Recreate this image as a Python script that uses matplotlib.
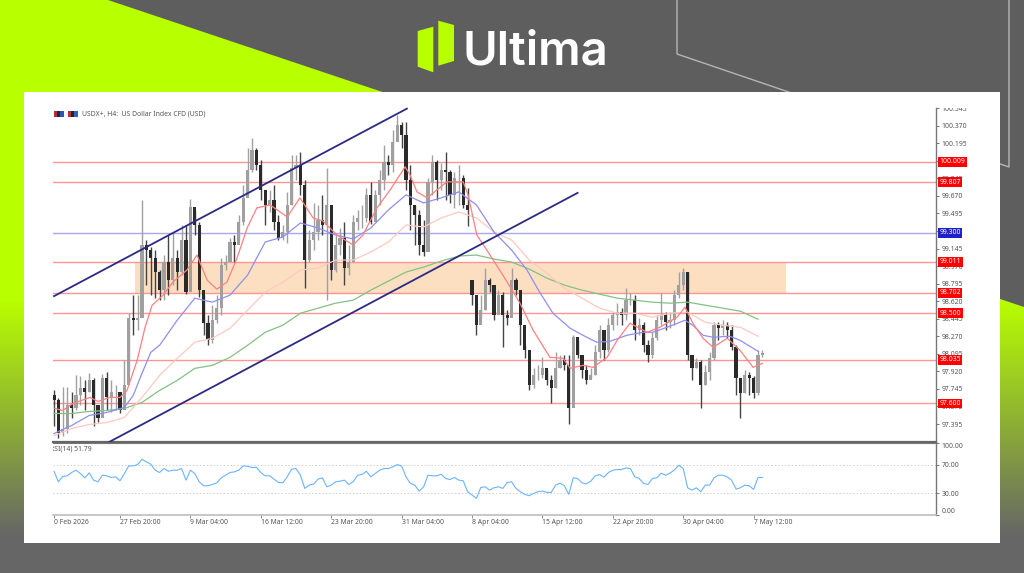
import numpy as np
import matplotlib
matplotlib.use("Agg")
import matplotlib.pyplot as plt
from matplotlib.patches import Polygon, Rectangle
from matplotlib.transforms import Bbox

plt.rcParams["font.family"] = ["Noto Sans", "DejaVu Sans"]

W, H = 1024, 573

closes = [97.63, 97.31, 97.35, 97.58, 97.55, 97.68, 97.75, 97.71, 97.83, 97.58,
          97.45, 97.85, 97.66, 97.71, 97.71, 97.53, 97.78, 98.45, 98.43, 98.45,
          99.18, 99.13, 99.05, 98.91, 98.73, 99.01, 98.83, 99.05, 98.91, 99.23,
          98.71, 99.56, 99.38, 98.73, 98.40, 98.23, 98.43, 98.55, 98.98, 99.01,
          99.21, 99.18, 99.41, 99.65, 99.93, 100.13, 99.98, 99.73, 99.58, 99.63,
          99.41, 99.25, 99.31, 99.58, 99.95, 99.98, 99.78, 99.03, 99.23, 99.31,
          99.43, 99.38, 99.58, 98.93, 99.18, 99.25, 98.95, 99.01, 99.41, 99.45,
          99.45, 99.68, 99.41, 99.68, 99.83, 100.01, 99.98, 100.21, 100.38, 100.28,
          99.83, 99.58, 99.48, 99.18, 99.11, 99.81, 100.01, 99.83, 99.93, 99.91,
          99.68, 99.85, 99.85, 99.58, 99.53, 98.68, 98.38, 98.53, 98.83, 98.78,
          98.48, 98.68, 98.48, 98.45, 98.83, 98.73, 98.38, 98.13, 97.78, 97.88,
          97.88, 97.95, 97.83, 97.75, 97.95, 98.03, 97.98, 97.55, 98.26, 98.08,
          97.93, 97.83, 97.88, 98.11, 98.33, 98.13, 98.38, 98.48, 98.51, 98.48,
          98.63, 98.63, 98.33, 98.38, 98.18, 98.08, 98.25, 98.43, 98.48, 98.41,
          98.43, 98.68, 98.78, 98.91, 98.08, 97.95, 98.01, 97.78, 97.91, 98.05,
          98.38, 98.35, 98.38, 98.33, 98.16, 97.85, 97.70, 97.88, 97.85, 97.70,
          98.08, 98.10]
highs = [97.73, 97.65, 97.76, 97.76, 97.71, 97.88, 97.87, 97.83, 97.90, 97.85,
         97.58, 97.89, 97.91, 97.83, 97.78, 97.70, 98.03, 98.50, 98.68, 98.68,
         99.63, 99.23, 99.16, 99.13, 98.93, 99.08, 99.28, 99.31, 99.13, 99.38,
         99.38, 99.64, 99.53, 99.41, 98.68, 98.48, 98.58, 98.68, 99.05, 99.08,
         99.25, 99.28, 99.48, 99.78, 100.15, 100.25, 100.15, 100.03, 99.73, 99.73,
         99.78, 99.48, 99.38, 99.71, 100.08, 100.08, 100.11, 99.83, 99.33, 99.60,
         99.58, 99.68, 99.95, 99.58, 99.28, 99.35, 99.41, 99.18, 99.48, 99.53,
         99.58, 99.75, 99.81, 99.73, 99.93, 100.18, 100.08, 100.33, 100.48, 100.41,
         100.41, 99.98, 99.58, 99.53, 99.43, 99.85, 100.08, 100.03, 100.00, 100.11,
         99.93, 99.91, 99.98, 99.88, 99.75, 98.83, 98.68, 98.68, 98.95, 98.85,
         98.78, 98.73, 98.71, 98.53, 98.95, 98.85, 98.68, 98.18, 98.08, 97.95,
         97.98, 98.06, 97.93, 97.88, 98.11, 98.08, 98.08, 98.08, 98.28, 98.23,
         98.08, 97.98, 97.95, 98.18, 98.38, 98.23, 98.45, 98.51, 98.60, 98.55,
         98.75, 98.70, 98.68, 98.45, 98.41, 98.23, 98.31, 98.48, 98.70, 98.51,
         98.51, 98.73, 98.91, 98.95, 98.91, 98.08, 98.05, 98.03, 97.98, 98.11,
         98.41, 98.41, 98.43, 98.41, 98.38, 98.18, 97.83, 97.93, 97.91, 97.87,
         98.13, 98.13]
lows = [97.38, 97.26, 97.28, 97.31, 97.45, 97.53, 97.58, 97.53, 97.71, 97.38,
        97.41, 97.48, 97.53, 97.51, 97.53, 97.50, 97.63, 97.93, 98.28, 98.33,
        98.63, 98.78, 98.68, 98.65, 98.63, 98.63, 98.68, 98.78, 98.73, 98.88,
        98.69, 99.18, 99.28, 98.66, 98.28, 98.18, 98.20, 98.40, 98.48, 98.93,
        99.08, 99.01, 99.23, 99.38, 99.68, 99.91, 99.93, 99.63, 99.38, 99.51,
        99.33, 99.23, 99.23, 99.20, 99.58, 99.83, 99.68, 98.75, 99.01, 99.13,
        99.23, 99.28, 98.63, 98.83, 98.91, 99.08, 98.78, 98.88, 99.01, 99.33,
        99.35, 99.41, 99.39, 99.48, 99.58, 99.73, 99.88, 99.91, 100.28, 100.15,
        99.73, 99.33, 99.18, 99.08, 99.07, 99.23, 99.68, 99.63, 99.73, 99.63,
        99.60, 99.55, 99.58, 99.55, 99.37, 98.58, 98.28, 98.45, 98.53, 98.71,
        98.43, 98.60, 98.16, 98.38, 98.81, 98.68, 98.18, 98.05, 97.73, 97.75,
        97.83, 97.85, 97.78, 97.60, 97.75, 97.95, 97.93, 97.40, 97.65, 98.05,
        97.85, 97.79, 97.85, 97.88, 98.05, 98.03, 98.11, 98.33, 98.38, 98.38,
        98.43, 98.58, 98.23, 98.28, 98.11, 98.01, 98.05, 98.23, 98.38, 98.33,
        98.35, 98.38, 98.65, 98.73, 98.03, 97.83, 97.95, 97.55, 97.78, 97.83,
        98.03, 98.23, 98.28, 98.25, 98.13, 97.68, 97.45, 97.70, 97.68, 97.65,
        97.68, 98.06]
# the weekend gap, every other bar opens on the previous close
gap_opens = {95: 98.83}

ma_fast_bars = [0.2, 2, 4.3, 8.2, 10, 12.7, 15, 16.6, 18.9, 20.7,
                22.3, 24.8, 27, 30.2, 32.5, 34.8, 37, 39.3, 41.6, 43.9,
                46.1, 49.1, 53, 55.9, 58.9, 61.1, 64.3, 68, 70.2, 73.4,
                76.4, 79.8, 80.9, 82.5, 84.8, 89.3, 93, 94.1, 96.1, 99.1,
                102, 103, 105.9, 108.9, 112.7, 115.7, 117.3, 120.2, 122.5, 125.7,
                128, 130.9, 134.8, 137.7, 141.6, 143.4, 145.2, 147.5, 149.8, 153,
                155.9, 158.9, 161]
ma_fast = [97.55, 97.53, 97.60, 97.66, 97.62, 97.66, 97.66, 97.73, 98.03, 98.36,
           98.58, 98.68, 98.81, 98.93, 99.08, 98.83, 98.74, 98.81, 99.05, 99.35,
           99.55, 99.58, 99.46, 99.65, 99.45, 99.42, 99.28, 99.18, 99.28, 99.55,
           99.73, 99.96, 99.88, 99.71, 99.65, 99.81, 99.81, 99.68, 99.28, 99.08,
           98.88, 98.81, 98.60, 98.33, 98.06, 98.05, 97.95, 97.98, 97.96, 98.06,
           98.23, 98.40, 98.31, 98.36, 98.46, 98.56, 98.40, 98.25, 98.16, 98.25,
           98.13, 97.96, 98.00]

ma_mid_bars = [0, 4, 8, 12, 16, 18, 20, 22, 24, 28,
               32, 36, 40, 44, 48, 52, 56, 60, 64, 68,
               72, 76, 80, 84, 88, 92, 96, 100, 104, 107.5,
               110.5, 113.4, 117.3, 120.2, 123.4, 126.4, 130.2, 133.9, 136.1, 140,
               143.4, 145.2, 147.5, 149.8, 153.6, 155.9, 160]
ma_mid = [97.30, 97.38, 97.48, 97.51, 97.56, 97.68, 97.90, 98.11, 98.18, 98.43,
          98.65, 98.61, 98.68, 98.88, 99.21, 99.26, 99.40, 99.35, 99.28, 99.24,
          99.35, 99.53, 99.68, 99.60, 99.65, 99.71, 99.58, 99.31, 99.13, 98.93,
          98.70, 98.50, 98.35, 98.28, 98.21, 98.22, 98.28, 98.31, 98.31, 98.37,
          98.43, 98.38, 98.28, 98.26, 98.27, 98.23, 98.12]

ma_bars = list(range(0, 161, 4))
ma_slow = [97.28, 97.35, 97.39, 97.41, 97.46, 97.66, 97.88, 98.05, 98.21, 98.25,
           98.35, 98.53, 98.71, 98.81, 98.93, 98.95, 99.03, 99.03, 99.11, 99.21,
           99.38, 99.36, 99.45, 99.51, 99.45, 99.31, 99.23, 99.03, 98.90, 98.75,
           98.65, 98.55, 98.50, 98.50, 98.46, 98.50, 98.51, 98.41, 98.38, 98.36,
           98.27]
ma_long = [97.50, 97.50, 97.52, 97.53, 97.55, 97.61, 97.73, 97.83, 97.95, 97.98,
           98.06, 98.18, 98.31, 98.38, 98.50, 98.55, 98.60, 98.63, 98.73, 98.82,
           98.91, 98.96, 99.02, 99.07, 99.08, 99.04, 99.01, 98.94, 98.85, 98.78,
           98.73, 98.69, 98.65, 98.63, 98.61, 98.60, 98.61, 98.58, 98.55, 98.52,
           98.44]

rsi = [60.8, 46.1, 53.5, 54.4, 59.0, 62.2, 57.6, 51.6, 58.5, 48.4,
       46.1, 55.3, 54.4, 52.1, 53.0, 47.5, 57.6, 68.2, 68.2, 70.0,
       77.4, 73.7, 70.5, 62.2, 59.0, 64.5, 60.8, 62.2, 62.2, 64.5,
       48.4, 62.2, 57.6, 46.1, 40.6, 40.6, 42.4, 44.7, 51.6, 55.3,
       59.0, 59.9, 62.2, 68.2, 67.7, 65.9, 66.3, 59.0, 54.4, 54.4,
       49.8, 45.2, 44.7, 53.0, 63.6, 64.5, 55.3, 36.9, 41.5, 42.9,
       49.8, 51.6, 39.2, 41.5, 46.1, 47.0, 48.4, 42.4, 46.1, 55.3,
       56.2, 60.8, 53.0, 57.6, 62.2, 64.5, 64.5, 66.8, 70.0, 68.2,
       53.0, 43.8, 41.5, 33.2, 39.2, 55.3, 54.4, 54.4, 56.7, 50.7,
       49.3, 52.1, 48.4, 47.5, 32.3, 27.7, 23.1, 38.3, 39.2, 34.6,
       37.8, 39.2, 36.9, 45.2, 46.1, 36.9, 32.3, 28.6, 26.8, 30.0,
       32.3, 33.2, 31.4, 31.4, 41.5, 44.3, 40.6, 28.6, 51.6, 50.7,
       44.7, 43.3, 47.0, 54.4, 56.2, 52.5, 59.0, 62.2, 63.1, 63.1,
       65.4, 64.5, 53.0, 50.7, 43.8, 42.4, 50.7, 51.6, 58.1, 55.3,
       58.1, 62.7, 69.1, 64.5, 37.8, 34.6, 37.8, 32.3, 41.5, 41.5,
       51.6, 55.3, 55.3, 53.0, 48.4, 36.0, 37.8, 41.5, 40.6, 35.5,
       52.1, 52.1]

price_ticks = [100.545, 100.370, 100.195, 100.020, 99.845, 99.670, 99.495, 99.320,
               99.145, 98.970, 98.795, 98.620, 98.445, 98.270, 98.095, 97.920,
               97.745, 97.570, 97.395]
red_levels = [100.009, 99.807, 99.011, 98.702, 98.500, 98.035, 97.600]
blue_levels = [99.300]
zone_prices = [98.702, 99.011]
zone_bars = [18.4, 166.4]
upper_trend_bars = [0, 80.2]
upper_trend_prices = [98.67, 100.54]
lower_trend_bars = [12.3, 119]
lower_trend_prices = [97.21, 99.70]

date_bars = [0, 15, 31, 47, 63, 79, 95, 111, 127, 143, 159]
date_labels = ["0 Feb 2026", "27 Feb 20:00", "9 Mar 04:00", "16 Mar 12:00",
               "23 Mar 20:00", "31 Mar 04:00", "8 Apr 04:00", "15 Apr 12:00",
               "22 Apr 20:00", "30 Apr 04:00", "7 May 12:00"]
rsi_ticks = [0, 30, 70, 100]

GREY = "#5e5e5e"
LIME = np.array([184, 255, 0]) / 255
BOTTOM = np.array([102, 102, 102]) / 255
TXT = "#555555"
FS = 4.9


def panel(top, bottom, left=53, right=936):
    return [left / W, 1 - bottom / H, (right - left) / W, (bottom - top) / H]


fig = plt.figure(figsize=(W / 100, H / 100), dpi=100, facecolor=GREY)

# background and banner, drawn in pixel coordinates
bg = fig.add_axes([0, 0, 1, 1])
fade = np.clip((np.arange(H) - 300) / 235, 0, 1)[:, None, None]
bg.imshow(LIME * (1 - fade) + BOTTOM * fade, extent=[0, W, H, 0], aspect="auto", zorder=0)
bg.set_xlim(0, W)
bg.set_ylim(H, 0)
bg.axis("off")
bg.add_patch(Polygon([(108, 0), (W, 0), (W, 307)], color=GREY, zorder=1, lw=0))
bg.plot([677, 677, 1009, 1009], [0, 54, 167, 0], color="#b5b5b5", lw=1, zorder=2)
bg.add_patch(Rectangle((24, 92), 976, 451, color="white", zorder=3, lw=0))
bg.add_patch(Polygon([(417.7, 31), (433.3, 26.7), (433.3, 72.3), (417.7, 66.7)], color="#b8ff00", lw=0, zorder=2))
bg.add_patch(Polygon([(438.3, 20.7), (454, 25), (454, 61), (438.3, 65.7)], color="#b8ff00", lw=0, zorder=2))
bg.text(462.5, 64.5, "Ultima", color="white", fontsize=34, fontweight="semibold",
        family=["Inter", "Noto Sans"], va="baseline", ha="left", zorder=2)

# chart header icons
for x0, cols in [(54, ["#b03030", "#222244", "#3050c0"]), (68, ["#c03030", "#222222", "#3060c0"])]:
    for k, c in enumerate(cols):
        bg.add_patch(Rectangle((x0 + k * 3.2, 111), 3.2, 6, color=c, lw=0, zorder=4))
bg.text(82, 114, "USDX+, H4:  US Dollar Index CFD (USD)", color=TXT, fontsize=FS, va="center", zorder=4)

# price pane
ax = fig.add_axes(panel(108, 442), facecolor="none")
xlim = (-0.227, 200.45)
ax.set_xlim(*xlim)
ax.set_ylim(97.2155, 100.5465)

ax.axhspan(zone_prices[0], zone_prices[1], (zone_bars[0] - xlim[0]) / (xlim[1] - xlim[0]),
           (zone_bars[1] - xlim[0]) / (xlim[1] - xlim[0]), color="#fcdfc0", lw=0, zorder=1)
for lvl in red_levels:
    ax.axhline(lvl, color="#ff9595", lw=1.0, zorder=2)
for lvl in blue_levels:
    ax.axhline(lvl, color="#a8a8f0", lw=1.0, zorder=2)

closes_a = np.array(closes)
highs_a = np.array(highs)
lows_a = np.array(lows)
opens_a = np.r_[closes_a[0] + 0.05, closes_a[:-1]]
for bar, val in gap_opens.items():
    opens_a[bar] = val
bars = np.arange(len(closes_a))
up = closes_a >= opens_a

ax.vlines(bars[up], lows_a[up], highs_a[up], color="#a0a0a0", lw=1.0, zorder=3)
ax.vlines(bars[~up], lows_a[~up], highs_a[~up], color="#444444", lw=1.0, zorder=3)
ax.bar(bars[up], (closes_a - opens_a)[up], bottom=opens_a[up], width=0.72, color="#a0a0a0", lw=0, zorder=4)
ax.bar(bars[~up], (closes_a - opens_a)[~up], bottom=opens_a[~up], width=0.72, color="#2a2a2a", lw=0, zorder=4)

ax.plot(ma_bars, ma_long, color="#84c084", lw=0.9, zorder=5)
ax.plot(ma_bars, ma_slow, color="#ffc9c0", lw=0.9, zorder=5)
ax.plot(ma_mid_bars, ma_mid, color="#8f8ff0", lw=0.9, zorder=5)
ax.plot(ma_fast_bars, ma_fast, color="#ff8080", lw=0.9, zorder=5)

ax.plot(upper_trend_bars, upper_trend_prices, color="#2b2b85", lw=1.3, zorder=6, clip_on=False)
ax.plot(lower_trend_bars, lower_trend_prices, color="#2b2b85", lw=1.3, zorder=6)

for s in ["left", "top"]:
    ax.spines[s].set_visible(False)
ax.spines["right"].set_color("#777777")
ax.spines["right"].set_linewidth(1)
ax.spines["bottom"].set_color("#666666")
ax.spines["bottom"].set_linewidth(1.6)
ax.set_xticks([])
ax.yaxis.tick_right()
ax.set_yticks(price_ticks)
ax.set_yticklabels([f"{p:.3f}" for p in price_ticks])
ax.tick_params(axis="y", length=2.5, width=0.7, color="#777777", pad=1.5, labelsize=FS, labelcolor=TXT)
clip_box = Bbox.from_extents(930, 0, 1010, H - 108)
for lab in ax.get_yticklabels():
    lab.set_clip_box(clip_box)
    lab.set_clip_on(True)

all_levels = [(lvl, "#ff0000") for lvl in red_levels] + [(lvl, "#2020c8") for lvl in blue_levels]
for lvl, col in all_levels:
    ax.annotate(f"{lvl:.3f}", xy=(1, lvl), xycoords=("axes fraction", "data"), xytext=(2.6, 0),
                textcoords="offset points", color="white", fontsize=FS, va="center", ha="left",
                annotation_clip=False, zorder=10,
                bbox=dict(boxstyle="square,pad=0.2", fc=col, ec="none"))

# RSI pane
rs = fig.add_axes(panel(443, 515), facecolor="none")
rs.set_xlim(*xlim)
rs.set_ylim(0, 100)
for lvl in [30, 70]:
    rs.axhline(lvl, color="#cfcfcf", lw=0.7, ls=(0, (1.5, 2)), zorder=1)
rs.plot(np.arange(len(rsi)), rsi, color="#6ab4ff", lw=0.8, zorder=3)
rs.text(-0.85, 91, "RSI(14) 51.79", color=TXT, fontsize=FS, va="center", ha="left", clip_on=True)

rs.spines["left"].set_visible(False)
rs.spines["top"].set_color("#777777")
rs.spines["top"].set_linewidth(0.8)
rs.spines["right"].set_color("#777777")
rs.spines["right"].set_linewidth(1)
rs.spines["bottom"].set_color("#bdbdbd")
rs.spines["bottom"].set_linewidth(1.2)
rs.yaxis.tick_right()
rs.set_yticks(rsi_ticks)
rs.set_yticklabels([f"{v:.2f}" for v in rsi_ticks])
rs.tick_params(axis="y", length=2.5, width=0.7, color="#777777", pad=1.5, labelsize=FS, labelcolor=TXT)
for lab, v in zip(rs.get_yticklabels(), rsi_ticks):
    if v == 100:
        lab.set_va("top")
    elif v == 0:
        lab.set_va("bottom")
rs.set_xticks(date_bars)
rs.set_xticklabels(date_labels, ha="left")
rs.tick_params(axis="x", length=2, width=0.7, color="#888888", pad=1.2, labelsize=FS, labelcolor=TXT)

fig.savefig("out.png", dpi=100, facecolor=fig.get_facecolor())
